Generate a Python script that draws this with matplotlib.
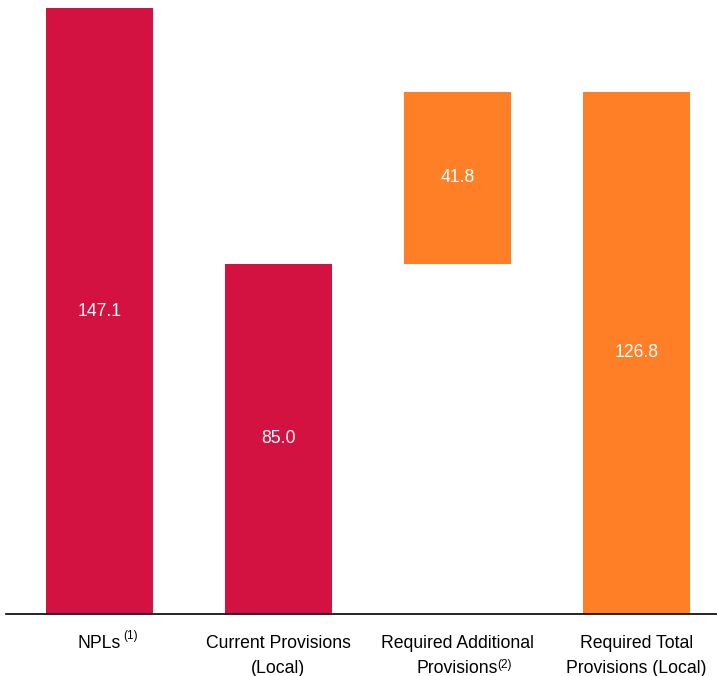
import matplotlib
matplotlib.use("Agg")
import matplotlib.pyplot as plt

# Provisioning bridge (values in millions)
categorias = ["NPLs",
              "Current Provisions\n(Local)",
              "Required Additional\nProvisions",
              "Required Total\nProvisions (Local)"]
notas = ["(1)", "", "(2)", ""]
npls = 147.1
provisoes_atuais = 85.0
provisoes_adicionais = 41.8
provisoes_totais = 126.8

valores = [npls, provisoes_atuais, provisoes_adicionais, provisoes_totais]
bases = [0, 0, provisoes_atuais, 0]
cores = ["#D31242", "#D31242", "#FF7F27", "#FF7F27"]

plt.rcParams["font.family"] = ["Liberation Sans", "DejaVu Sans"]

fig = plt.figure(figsize=(7.17, 6.76), dpi=100)
ax = fig.add_axes([6/717, 62/676, 711/717, 606/676])

x = list(range(len(valores)))
ax.bar(x, valores, bottom=bases, width=0.6, color=cores)

for xi, v, b in zip(x, valores, bases):
    ax.text(xi, b + v/2, f"{v:.1f}", ha="center", va="center",
            color="white", fontsize=12.7)

ax.set_xlim(-0.522, 3.45)
ax.set_ylim(0, npls)
ax.set_xticks(x)
ax.set_xticklabels([])
ax.tick_params(axis="x", length=0)
ax.set_yticks([])
for lado in ["top", "right", "left"]:
    ax.spines[lado].set_visible(False)
ax.spines["bottom"].set_linewidth(1.2)

# rótulos das categorias, linha por linha, com as notas sobrescritas
renderer = fig.canvas.get_renderer()
linhas_y = [-34, -59]
for xi, cat, nota in zip(x, categorias, notas):
    partes = cat.split("\n")
    for i, linha in enumerate(partes):
        t = ax.annotate(linha, xy=(xi, 0), xytext=(0, linhas_y[i]),
                        textcoords="offset pixels", ha="center",
                        va="baseline", fontsize=12.7)
        if nota and i == len(partes) - 1:
            w = t.get_window_extent(renderer).width
            if len(partes) == 1:
                dx, dy = w/2 + 2, linhas_y[i] + 9
            else:
                dx, dy = w/2 - 0.5, linhas_y[i] + 5
            ax.annotate(nota, xy=(xi, 0), xytext=(dx, dy),
                        textcoords="offset pixels", ha="left",
                        va="baseline", fontsize=8.5)

fig.savefig("out.png", dpi=100)
